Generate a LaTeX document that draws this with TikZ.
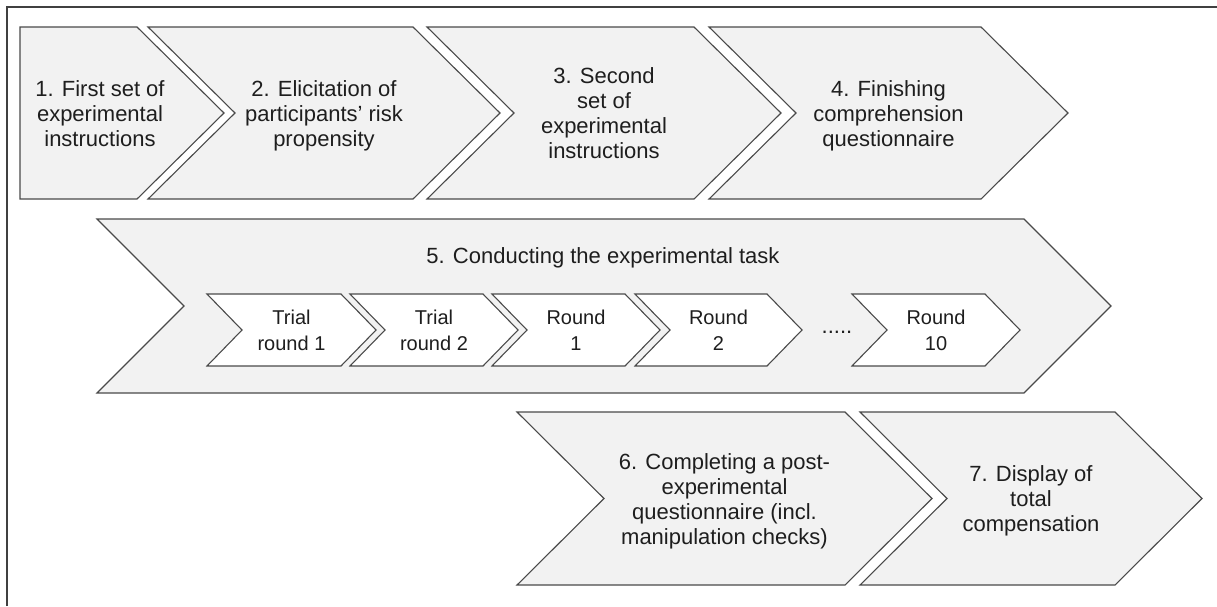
\documentclass[tikz,border=0pt]{standalone}
\usepackage{fontspec}
\setmainfont{Liberation Sans}
\definecolor{chevfill}{HTML}{F2F2F2}
\definecolor{chevline}{HTML}{4A4A4A}
\definecolor{framecol}{HTML}{404040}
\definecolor{txt}{HTML}{1E1E1E}
\newcommand{\mychev}[6]{%
  \draw[#1] (#2,#3) -- (#5,#3) -- ({#5+#6},{(#3+#4)/2}) -- (#5,#4) -- (#2,#4) -- ({#2+#6},{(#3+#4)/2}) -- cycle;}
\newcommand{\fststrut}{\rule{0pt}{16.5pt}}
\newcommand{\substrut}{\rule{0pt}{15pt}}
\begin{document}
\begin{tikzpicture}[x=1pt,y=-1pt,
  chev/.style={draw=chevline, fill=chevfill, line width=1.1pt, line join=miter},
  subchev/.style={chev, fill=white},
  lbl/.style={font=\fontsize{22}{25}\selectfont, text=txt, align=center, inner sep=0pt, anchor=north},
  sublbl/.style={font=\fontsize{20}{25.5}\selectfont, text=txt, align=center, inner sep=0pt, anchor=north}]
\useasboundingbox (0,0) rectangle (1217,606);
% frame
\draw[framecol, line width=1.3pt] (7,606) -- (7,7) -- (1217,7);
% row 1
\draw[chev] (20,27) -- (137,27) -- (224,113) -- (137,199) -- (20,199) -- cycle;
\mychev{chev}{148}{27}{199}{413}{87}
\mychev{chev}{427}{27}{199}{694}{87}
\mychev{chev}{709}{27}{199}{981}{87}
% row 2
\mychev{chev}{97}{219}{393}{1024}{87}
\mychev{subchev}{207}{294}{366}{341}{35}
\mychev{subchev}{350}{294}{366}{483}{35}
\mychev{subchev}{492}{294}{366}{625}{35}
\mychev{subchev}{635}{294}{366}{767}{35}
\mychev{subchev}{852}{294}{366}{985}{35}
% row 3
\mychev{chev}{517}{412}{585}{845}{87}
\mychev{chev}{860}{412}{585}{1115}{87}
% texts
\node[lbl] (t1) at (100,79.5) {\fststrut 1. First set of\\experimental\\instructions};
\node[lbl] (t2) at (324,79.5) {\fststrut 2. Elicitation of\\participants’ risk\\propensity};
\node[lbl] (t3) at (604,67) {\fststrut 3. Second\\set of\\experimental\\instructions};
\node[lbl] (t4) at (888.5,79.5) {\fststrut 4. Finishing\\comprehension\\questionnaire};
\node[lbl, anchor=base] (t5) at (603,263) {5. Conducting the experimental task};
\node[sublbl] (r1) at (291.5,309.4) {\substrut Trial\\round 1};
\node[sublbl] (r2) at (434,309.4) {\substrut Trial\\round 2};
\node[sublbl] (r3) at (576,309.4) {\substrut Round\\1};
\node[sublbl] (r4) at (718.5,309.4) {\substrut Round\\2};
\node[lbl, anchor=base] (dots) at (837,333) {.....};
\node[sublbl] (r5) at (936,309.4) {\substrut Round\\10};
\node[lbl] (t6) at (724.5,452.5) {\fststrut 6. Completing a post-\\experimental\\questionnaire (incl.\\manipulation checks)};
\node[lbl] (t7) at (1031,465) {\fststrut 7. Display of\\total\\compensation};
\end{tikzpicture}
\end{document}
